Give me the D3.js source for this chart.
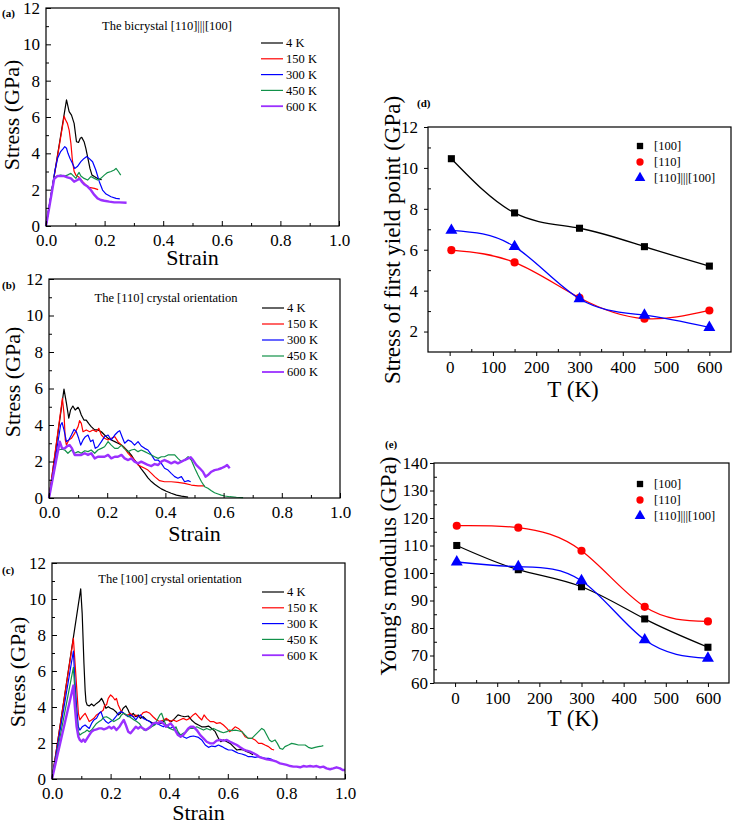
<!DOCTYPE html>
<html><head><meta charset="utf-8">
<script src="https://cdn.jsdelivr.net/npm/d3@7"></script>
<style>body{margin:0;background:#fff}svg{display:block}svg text{font-family:"Liberation Serif","Times New Roman",serif !important;}</style>
</head><body>
<script>
// ---------- DATA ----------
const tempLabels = ["4 K","150 K","300 K","450 K","600 K"];
const seriesColors = ["#000000","#ff0000","#0000ff","#119149","#9b30ff"];
const strainTicks = [0,0.2,0.4,0.6,0.8,1.0];
const stressTicks = [0,2,4,6,8,10,12];

// (a) bicrystal [110]|||[100]  — [strain, stress GPa]
const a4K = [[0,0],[0.07,6.94],[0.079,6.3],[0.087,6.1],[0.096,5.65],[0.104,4.64],[0.111,4.6],[0.117,4.83],[0.122,4.88],[0.13,4.64],[0.136,4.27],[0.142,3.8],[0.15,3.17],[0.157,2.8],[0.165,2.72],[0.176,2.62],[0.185,2.57],[0.19,2.55]];
const a150K = [[0,0],[0.062,6.05],[0.067,5.83],[0.073,5.65],[0.079,5.28],[0.085,4.55],[0.09,3.63],[0.096,3.0],[0.102,2.8],[0.113,2.68],[0.125,2.44],[0.136,2.26],[0.147,2.13],[0.165,2.07],[0.178,2.0]];
const a300K = [[0,0],[0.03,3.0],[0.04,3.75],[0.05,4.1],[0.058,4.25],[0.064,4.37],[0.07,4.28],[0.075,4.0],[0.082,3.72],[0.09,3.45],[0.098,3.17],[0.107,3.27],[0.119,3.54],[0.13,3.72],[0.139,3.82],[0.147,3.72],[0.159,3.54],[0.17,3.08],[0.182,2.44],[0.193,1.98],[0.205,1.76],[0.222,1.61],[0.239,1.52],[0.252,1.49]];
const a450K = [[0,0],[0.027,2.65],[0.037,2.75],[0.05,2.8],[0.062,2.75],[0.073,2.8],[0.085,2.9],[0.096,2.72],[0.102,2.62],[0.107,2.8],[0.113,2.95],[0.119,2.75],[0.13,2.62],[0.142,2.53],[0.153,2.72],[0.165,2.62],[0.176,2.53],[0.187,2.62],[0.199,2.8],[0.21,2.94],[0.222,3.0],[0.233,3.08],[0.239,3.17],[0.247,3.0],[0.255,2.8]];
const a600K = [[0,0],[0.028,2.6],[0.039,2.75],[0.05,2.75],[0.062,2.75],[0.073,2.68],[0.085,2.62],[0.096,2.44],[0.107,2.53],[0.115,2.62],[0.122,2.44],[0.13,2.3],[0.142,2.17],[0.153,1.98],[0.165,1.71],[0.176,1.52],[0.187,1.43],[0.199,1.39],[0.216,1.34],[0.233,1.3],[0.25,1.3],[0.275,1.28]];

// (b) [110] orientation
const b4K = [[0,0],[0.0515,5.97],[0.06,5.19],[0.068,4.37],[0.074,4.82],[0.082,5.04],[0.09,4.82],[0.1,4.97],[0.105,4.82],[0.111,4.55],[0.12,4.27],[0.128,4.27],[0.136,4.09],[0.145,3.91],[0.157,3.73],[0.168,3.73],[0.18,3.63],[0.191,3.45],[0.203,3.27],[0.214,3.18],[0.226,3.09],[0.237,3.0],[0.249,2.9],[0.26,2.75],[0.272,2.55],[0.283,2.35],[0.294,2.07],[0.306,1.85],[0.317,1.6],[0.329,1.35],[0.34,1.1],[0.352,0.9],[0.363,0.75],[0.375,0.62],[0.386,0.5],[0.403,0.37],[0.42,0.26],[0.438,0.16],[0.455,0.1],[0.478,0.05]];
const b150K = [[0,0],[0.046,5.46],[0.0515,4.64],[0.056,3.18],[0.06,2.9],[0.068,3.18],[0.077,3.27],[0.088,3.54],[0.1,3.91],[0.105,4.24],[0.111,4.09],[0.117,3.63],[0.128,3.73],[0.14,3.63],[0.151,3.73],[0.163,3.63],[0.171,3.82],[0.18,3.45],[0.191,3.27],[0.203,3.18],[0.214,3.27],[0.226,3.36],[0.237,3.09],[0.249,2.9],[0.26,2.72],[0.272,2.45],[0.283,2.26],[0.294,2.08],[0.306,1.81],[0.317,1.72],[0.329,1.63],[0.34,1.53],[0.352,1.35],[0.363,1.17],[0.38,0.95],[0.397,0.89],[0.42,0.89],[0.443,0.86],[0.466,0.8],[0.489,0.71],[0.512,0.66],[0.535,0.66]];
const b300K = [[0,0],[0.04,4.0],[0.045,4.13],[0.0515,3.73],[0.06,3.09],[0.068,3.18],[0.077,3.45],[0.086,3.76],[0.094,3.63],[0.102,3.27],[0.109,2.9],[0.117,3.18],[0.125,3.36],[0.134,3.45],[0.143,3.09],[0.151,3.18],[0.159,2.72],[0.168,2.81],[0.18,3.09],[0.191,3.36],[0.203,3.45],[0.214,3.18],[0.226,3.45],[0.237,3.63],[0.243,3.69],[0.251,3.36],[0.26,3.0],[0.272,3.18],[0.283,3.09],[0.294,2.9],[0.306,3.09],[0.317,2.85],[0.329,2.72],[0.34,2.63],[0.352,2.36],[0.363,2.08],[0.375,2.08],[0.386,1.9],[0.397,1.63],[0.409,1.53],[0.42,1.35],[0.432,1.17],[0.443,1.08],[0.455,1.17],[0.466,0.89],[0.478,0.95],[0.487,0.89]];
const b450K = [[0,0],[0.031,2.63],[0.043,2.67],[0.054,2.63],[0.065,2.45],[0.077,2.63],[0.088,2.45],[0.1,2.54],[0.111,2.45],[0.123,2.59],[0.134,2.54],[0.145,2.63],[0.157,2.45],[0.168,2.63],[0.18,2.72],[0.191,2.81],[0.203,3.09],[0.214,2.9],[0.226,2.72],[0.237,2.72],[0.249,2.9],[0.258,2.72],[0.272,2.54],[0.283,2.63],[0.294,2.67],[0.306,2.54],[0.317,2.63],[0.329,2.54],[0.34,2.45],[0.352,2.36],[0.363,2.26],[0.375,2.17],[0.386,2.26],[0.397,2.26],[0.409,2.36],[0.42,2.36],[0.432,2.36],[0.443,2.17],[0.455,1.99],[0.466,2.08],[0.478,2.26],[0.489,2.08],[0.501,1.63],[0.512,1.26],[0.524,0.89],[0.535,0.62],[0.546,0.53],[0.558,0.4],[0.569,0.29],[0.581,0.22],[0.592,0.16],[0.604,0.11],[0.621,0.07],[0.644,0.04],[0.667,0.02]];
const b600K = [[0,0],[0.037,3.09],[0.045,2.72],[0.054,2.72],[0.063,2.85],[0.071,2.9],[0.079,2.72],[0.088,2.36],[0.1,2.36],[0.111,2.36],[0.123,2.45],[0.134,2.36],[0.145,2.45],[0.157,2.17],[0.168,2.26],[0.18,2.26],[0.191,2.26],[0.203,2.36],[0.214,2.17],[0.226,2.26],[0.237,2.26],[0.249,2.36],[0.26,2.17],[0.272,2.08],[0.283,2.17],[0.294,1.99],[0.306,1.9],[0.317,1.99],[0.329,1.9],[0.34,1.81],[0.352,1.75],[0.363,1.86],[0.375,1.81],[0.386,1.99],[0.397,2.08],[0.409,1.99],[0.42,1.9],[0.432,1.99],[0.443,1.9],[0.455,1.99],[0.466,2.08],[0.478,2.17],[0.487,2.23],[0.495,2.08],[0.506,1.81],[0.518,1.63],[0.529,1.44],[0.538,1.17],[0.546,1.26],[0.558,1.44],[0.569,1.53],[0.581,1.57],[0.592,1.63],[0.604,1.72],[0.612,1.81],[0.621,1.63]];

// (c) [100] orientation
const c4K = [[0,0],[0.098,10.56],[0.103,9.2],[0.109,6.43],[0.113,4.94],[0.116,4.3],[0.12,4.11],[0.127,4.06],[0.135,4.17],[0.143,4.06],[0.152,4.2],[0.161,4.3],[0.169,4.48],[0.175,4.3],[0.184,3.93],[0.192,4.02],[0.2,3.93],[0.209,3.87],[0.218,3.74],[0.226,3.56],[0.234,3.65],[0.243,3.93],[0.252,4.06],[0.26,3.83],[0.268,3.5],[0.277,3.65],[0.286,3.46],[0.294,3.56],[0.302,3.37],[0.311,3.46],[0.323,3.28],[0.334,3.19],[0.345,3.09],[0.355,3.13],[0.363,3.09],[0.374,3.09],[0.385,3.28],[0.397,3.28],[0.408,3.19],[0.419,3.37],[0.43,3.56],[0.442,3.5],[0.453,3.46],[0.465,3.5],[0.476,3.28],[0.489,3.09],[0.5,3.0],[0.511,2.9],[0.523,2.9],[0.534,2.94],[0.545,2.81],[0.557,2.63],[0.568,2.26],[0.576,2.07],[0.585,2.17],[0.597,2.07],[0.608,1.98],[0.619,1.8],[0.631,1.61],[0.642,1.65],[0.653,1.61],[0.665,1.52],[0.676,1.45],[0.686,1.35]];
const c150K = [[0,0],[0.073,7.81],[0.078,6.61],[0.084,5.13],[0.09,3.65],[0.095,3.28],[0.103,3.46],[0.113,3.65],[0.12,3.43],[0.127,3.19],[0.135,3.28],[0.143,3.37],[0.152,3.56],[0.161,3.65],[0.169,3.74],[0.175,3.83],[0.18,4.11],[0.186,4.11],[0.192,4.48],[0.2,4.67],[0.207,4.57],[0.215,4.39],[0.22,4.48],[0.226,4.11],[0.234,3.83],[0.243,3.65],[0.252,3.56],[0.26,3.56],[0.268,3.65],[0.277,3.46],[0.286,3.56],[0.294,3.46],[0.302,3.5],[0.311,3.69],[0.323,3.74],[0.334,3.65],[0.345,3.46],[0.357,3.28],[0.368,3.19],[0.38,3.28],[0.391,3.37],[0.402,3.19],[0.414,3.28],[0.425,3.19],[0.436,3.28],[0.448,3.37],[0.459,3.28],[0.47,3.37],[0.482,3.56],[0.49,3.65],[0.5,3.46],[0.511,3.28],[0.519,3.56],[0.528,3.37],[0.54,3.19],[0.551,3.19],[0.562,3.09],[0.574,3.13],[0.585,3.0],[0.597,2.81],[0.606,2.63],[0.614,2.72],[0.625,2.9],[0.636,2.81],[0.648,2.63],[0.659,2.35],[0.67,2.26],[0.682,2.26],[0.693,2.17],[0.705,1.98],[0.716,1.98],[0.727,1.89],[0.739,1.8],[0.75,1.65],[0.758,1.61]];
const c300K = [[0,0],[0.073,7.11],[0.078,5.5],[0.084,4.02],[0.09,2.9],[0.095,2.72],[0.103,2.9],[0.113,3.0],[0.12,2.9],[0.127,2.81],[0.135,3.09],[0.143,3.28],[0.152,3.37],[0.161,3.65],[0.167,3.74],[0.175,3.37],[0.184,3.19],[0.192,3.09],[0.2,3.19],[0.209,3.28],[0.218,3.46],[0.226,3.65],[0.234,3.74],[0.243,3.69],[0.252,3.56],[0.26,3.46],[0.268,3.56],[0.277,3.46],[0.286,3.28],[0.294,3.46],[0.302,3.56],[0.311,3.37],[0.323,3.28],[0.334,3.19],[0.345,3.0],[0.357,3.09],[0.368,3.0],[0.38,2.9],[0.391,3.0],[0.402,2.81],[0.414,2.9],[0.425,2.63],[0.436,2.44],[0.448,2.35],[0.459,2.26],[0.47,2.35],[0.483,2.39],[0.5,2.31],[0.511,2.17],[0.523,1.89],[0.534,1.76],[0.545,1.83],[0.557,1.8],[0.568,1.89],[0.58,1.8],[0.591,1.7],[0.602,1.61],[0.614,1.61],[0.625,1.52],[0.636,1.43],[0.648,1.39],[0.659,1.33],[0.67,1.24],[0.682,1.24],[0.693,1.2],[0.705,1.24],[0.716,1.2],[0.727,1.15],[0.739,1.15],[0.75,1.09],[0.756,1.02]];
const c450K = [[0,0],[0.073,6.2],[0.078,4.94],[0.084,3.46],[0.09,2.63],[0.095,2.44],[0.103,2.54],[0.113,2.63],[0.12,2.72],[0.127,2.63],[0.135,2.72],[0.143,2.9],[0.152,3.09],[0.161,3.19],[0.169,3.28],[0.177,3.43],[0.186,3.46],[0.195,3.37],[0.203,3.28],[0.211,3.19],[0.22,3.28],[0.23,3.37],[0.237,3.56],[0.245,3.65],[0.255,3.56],[0.264,3.46],[0.272,3.37],[0.28,3.28],[0.289,3.19],[0.298,3.09],[0.306,2.9],[0.314,2.72],[0.323,2.72],[0.332,2.81],[0.34,2.9],[0.351,3.0],[0.359,3.28],[0.368,3.56],[0.374,3.65],[0.382,3.28],[0.391,2.9],[0.402,2.81],[0.414,2.72],[0.423,2.9],[0.43,2.63],[0.439,2.44],[0.448,2.54],[0.459,2.63],[0.47,2.81],[0.483,2.81],[0.494,2.9],[0.506,2.81],[0.517,2.72],[0.528,2.81],[0.54,2.72],[0.551,2.81],[0.562,2.72],[0.574,2.63],[0.585,2.57],[0.597,2.63],[0.606,2.72],[0.614,2.68],[0.625,2.72],[0.636,2.68],[0.648,2.63],[0.659,2.44],[0.67,2.26],[0.682,2.26],[0.693,2.44],[0.705,2.63],[0.716,2.81],[0.724,2.72],[0.733,2.44],[0.742,2.17],[0.75,2.07],[0.761,2.17],[0.769,1.98],[0.778,1.7],[0.787,1.65],[0.795,1.8],[0.807,1.89],[0.818,1.98],[0.83,1.94],[0.841,1.89],[0.852,1.89],[0.864,1.89],[0.875,1.76],[0.886,1.7],[0.898,1.76],[0.909,1.8],[0.92,1.83],[0.926,1.85]];
const c600K = [[0,0],[0.073,5.19],[0.078,4.02],[0.084,2.9],[0.09,2.35],[0.095,2.17],[0.101,2.07],[0.107,2.2],[0.113,2.07],[0.12,2.26],[0.127,2.44],[0.135,2.63],[0.143,2.72],[0.152,2.76],[0.161,2.81],[0.169,2.81],[0.177,2.76],[0.186,2.81],[0.195,2.9],[0.203,2.81],[0.211,2.9],[0.22,2.72],[0.23,2.9],[0.237,3.09],[0.245,3.28],[0.252,3.0],[0.26,2.63],[0.268,2.54],[0.277,2.72],[0.286,2.9],[0.294,2.81],[0.302,2.9],[0.311,2.81],[0.32,2.72],[0.328,2.81],[0.336,2.9],[0.345,3.09],[0.355,3.13],[0.363,3.09],[0.37,3.19],[0.38,3.09],[0.389,2.9],[0.397,3.0],[0.405,3.09],[0.414,2.9],[0.423,2.63],[0.43,2.44],[0.439,2.35],[0.448,2.44],[0.457,2.63],[0.465,2.81],[0.473,2.9],[0.483,2.9],[0.494,2.72],[0.506,2.44],[0.517,2.26],[0.528,2.07],[0.54,1.98],[0.551,1.98],[0.562,2.13],[0.574,2.17],[0.585,2.13],[0.597,2.17],[0.608,2.07],[0.619,1.98],[0.631,1.89],[0.642,1.76],[0.653,1.65],[0.665,1.57],[0.676,1.52],[0.688,1.43],[0.699,1.33],[0.71,1.2],[0.722,1.15],[0.733,1.09],[0.744,1.06],[0.756,1.02],[0.767,0.96],[0.778,0.87],[0.79,0.83],[0.801,0.78],[0.813,0.72],[0.824,0.69],[0.835,0.69],[0.847,0.65],[0.858,0.72],[0.869,0.69],[0.881,0.72],[0.892,0.69],[0.903,0.72],[0.915,0.65],[0.926,0.69],[0.937,0.59],[0.949,0.54],[0.96,0.59],[0.971,0.65],[0.983,0.59],[0.992,0.5],[1.0,0.5]];

// (d) and (e)
const temps = [4,150,300,450,600];
const orientLabels = ["[100]","[110]","[110]|||[100]"];
const orientColors = ["#000000","#ff0000","#0000ff"];
const yield100 = [10.45,7.8,7.05,6.15,5.2];
const yield110 = [5.98,5.38,3.65,2.63,3.03];
const yieldBi  = [6.95,6.15,3.6,2.8,2.2];
const young100 = [110,101.2,95,83.3,73];
const young110 = [117.2,116.5,108.1,87.7,82.4];
const youngBi  = [104,102.3,97.2,75.7,69];
const tTicks = [0,100,200,300,400,500,600];
const yieldTicks = [2,4,6,8,10,12];
const youngTicks = [60,70,80,90,100,110,120,130,140];

// ---------- DRAWING ----------
const FONT = "Liberation Serif, Times New Roman, serif";
const svg = d3.select("body").append("svg").attr("width",734).attr("height",825)
  .attr("font-family",FONT);

function styleAxis(g, fs){
  g.attr("font-family",FONT).attr("font-size",fs);
  g.select(".domain").remove();
  g.selectAll(".tick line").attr("stroke","#000").attr("stroke-width",1);
  g.selectAll("text").style("font-family",FONT).style("font-size",fs+"px").attr("fill","#000");
}
function txt(g, s, fs){
  return g.append("text").style("font-family",FONT).style("font-size",fs+"px").attr("fill","#000").text(s);
}

function ssPanel(c){
  const x = d3.scaleLinear().domain([0,1]).range([c.L,c.R]);
  const y = d3.scaleLinear().domain([0,12]).range([c.B,c.T]);
  const g = svg.append("g");
  const line = d3.line().x(d=>x(d[0])).y(d=>y(d[1]));
  c.series.forEach((s,i)=>{
    g.append("path").datum(s).attr("d",line).attr("fill","none")
      .attr("stroke",seriesColors[i]).attr("stroke-width", i===4 ? 2.4 : 1.2)
      .attr("stroke-linejoin","round");
  });
  g.append("rect").attr("x",c.L).attr("y",c.T).attr("width",c.R-c.L).attr("height",c.B-c.T)
    .attr("fill","none").attr("stroke","#000").attr("stroke-width",1.2);
  const gx = g.append("g").attr("transform",`translate(0,${c.B})`)
    .call(d3.axisBottom(x).tickValues(strainTicks).tickSize(-5).tickPadding(8).tickFormat(d3.format(".1f")));
  styleAxis(gx,17);
  const gxm = g.append("g").attr("transform",`translate(0,${c.B})`)
    .call(d3.axisBottom(x).tickValues([0.1,0.3,0.5,0.7,0.9]).tickSize(-3).tickFormat(""));
  styleAxis(gxm,17);
  const gy = g.append("g").attr("transform",`translate(${c.L},0)`)
    .call(d3.axisLeft(y).tickValues(stressTicks).tickSize(-5).tickPadding(6));
  styleAxis(gy,17);
  const gym = g.append("g").attr("transform",`translate(${c.L},0)`)
    .call(d3.axisLeft(y).tickValues([1,3,5,7,9,11]).tickSize(-3).tickFormat(""));
  styleAxis(gym,17);
  txt(g,"Strain",22).attr("x",(c.L+c.R)/2).attr("y",c.xlabY).attr("text-anchor","middle");
  txt(g,"Stress (GPa)",22).attr("transform",`translate(${c.ylabX},${c.ylabY}) rotate(-90)`)
    .attr("text-anchor","middle").attr("dy","0.35em");
  txt(g,c.title,12.5).attr("x",c.titleX).attr("y",c.titleY).attr("text-anchor","middle");
  txt(g,c.tag,11).attr("x",2).attr("y",c.tagY).attr("font-weight","bold");
  tempLabels.forEach((t,i)=>{
    const yy = c.legY + i*c.legStep;
    g.append("line").attr("x1",c.legX).attr("x2",c.legX+22).attr("y1",yy).attr("y2",yy)
      .attr("stroke",seriesColors[i]).attr("stroke-width",i===4?1.8:1.2);
    txt(g,t,12.5).attr("x",c.legX+25).attr("y",yy).attr("dy","0.35em");
  });
}

ssPanel({L:46,R:339,T:8,B:226,series:[a4K,a150K,a300K,a450K,a600K],
  xlabY:265,ylabX:11,ylabY:115,title:"The bicrystal [110]|||[100]",titleX:167,titleY:30,
  tag:"(a)",tagY:17,legX:261,legY:43,legStep:15.8});
ssPanel({L:49,R:340,T:279,B:498,series:[b4K,b150K,b300K,b450K,b600K],
  xlabY:541,ylabX:12,ylabY:382,title:"The [110] crystal orientation",titleX:166,titleY:302,
  tag:"(b)",tagY:289,legX:262,legY:308,legStep:16});
ssPanel({L:52,R:345,T:563,B:779,series:[c4K,c150K,c300K,c450K,c600K],
  xlabY:820,ylabX:17,ylabY:672,title:"The [100] crystal orientation",titleX:170,titleY:583,
  tag:"(c)",tagY:574,legX:262,legY:592,legStep:15.8});

function tPanel(c){
  const x = d3.scaleLinear().domain([-50,650]).range([c.L,c.R]);
  const y = d3.scaleLinear().domain(c.ydom).range([c.B,c.T]);
  const g = svg.append("g");
  const symTypes = [d3.symbolSquare,d3.symbolCircle,d3.symbolTriangle];
  const symSizes = [50,52,62];
  c.series.forEach((vals,i)=>{
    const pts = temps.map((t,k)=>[t,vals[k]]);
    g.append("path").datum(pts).attr("d",d3.line().curve(d3.curveNatural).x(d=>x(d[0])).y(d=>y(d[1])))
      .attr("fill","none").attr("stroke",orientColors[i]).attr("stroke-width",1.3);
    g.selectAll(null).data(pts).enter().append("path")
      .attr("transform",d=>`translate(${x(d[0])},${y(d[1])})`)
      .attr("d",d3.symbol().type(symTypes[i]).size(symSizes[i]))
      .attr("fill",orientColors[i]);
  });
  g.append("rect").attr("x",c.L).attr("y",c.T).attr("width",c.R-c.L).attr("height",c.B-c.T)
    .attr("fill","none").attr("stroke","#000").attr("stroke-width",1.2);
  const gx = g.append("g").attr("transform",`translate(0,${c.B})`)
    .call(d3.axisBottom(x).tickValues(tTicks).tickSize(4).tickPadding(5));
  styleAxis(gx,17);
  const gxm = g.append("g").attr("transform",`translate(0,${c.B})`)
    .call(d3.axisBottom(x).tickValues([50,150,250,350,450,550]).tickSize(-3).tickFormat(""));
  styleAxis(gxm,17);
  const gy = g.append("g").attr("transform",`translate(${c.L},0)`)
    .call(d3.axisLeft(y).tickValues(c.yticks).tickSize(4).tickPadding(c.ypad));
  styleAxis(gy,17);
  const gym = g.append("g").attr("transform",`translate(${c.L},0)`)
    .call(d3.axisLeft(y).tickValues(c.yminor).tickSize(-3).tickFormat(""));
  styleAxis(gym,17);
  txt(g,"T (K)",23).attr("x",573).attr("y",c.xlabY).attr("text-anchor","middle");
  txt(g,c.ylabel,23).attr("transform",`translate(${c.ylabX},${c.ylabY}) rotate(-90)`)
    .attr("text-anchor","middle").attr("dy","0.35em");
  txt(g,c.tag,11).attr("x",c.tagX).attr("y",c.tagY).attr("font-weight","bold");
  orientLabels.forEach((t,i)=>{
    const yy = c.legY + i*16;
    g.append("path").attr("transform",`translate(${c.legX},${yy})`)
      .attr("d",d3.symbol().type(symTypes[i]).size(symSizes[i]*0.8)).attr("fill",orientColors[i]);
    txt(g,t,12.5).attr("x",c.legX+14).attr("y",yy).attr("dy","0.35em");
  });
}

tPanel({L:428,R:731,T:127,B:352,ydom:[1,12],series:[yield100,yield110,yieldBi],
  yticks:yieldTicks,yminor:[3,5,7,9,11],ypad:6,xlabY:397,ylabX:392,ylabY:240,
  ylabel:"Stress of first yield point (GPa)",tag:"(d)",tagX:417,tagY:107,legX:640,legY:146});
tPanel({L:434,R:729,T:463,B:683,ydom:[60,140],series:[young100,young110,youngBi],
  yticks:youngTicks,yminor:[65,75,85,95,105,115,125,135],ypad:2,xlabY:726,ylabX:388,ylabY:566,
  ylabel:"Young's modulus (GPa)",tag:"(e)",tagX:385,tagY:448,legX:640,legY:484});
</script>
</body></html>
